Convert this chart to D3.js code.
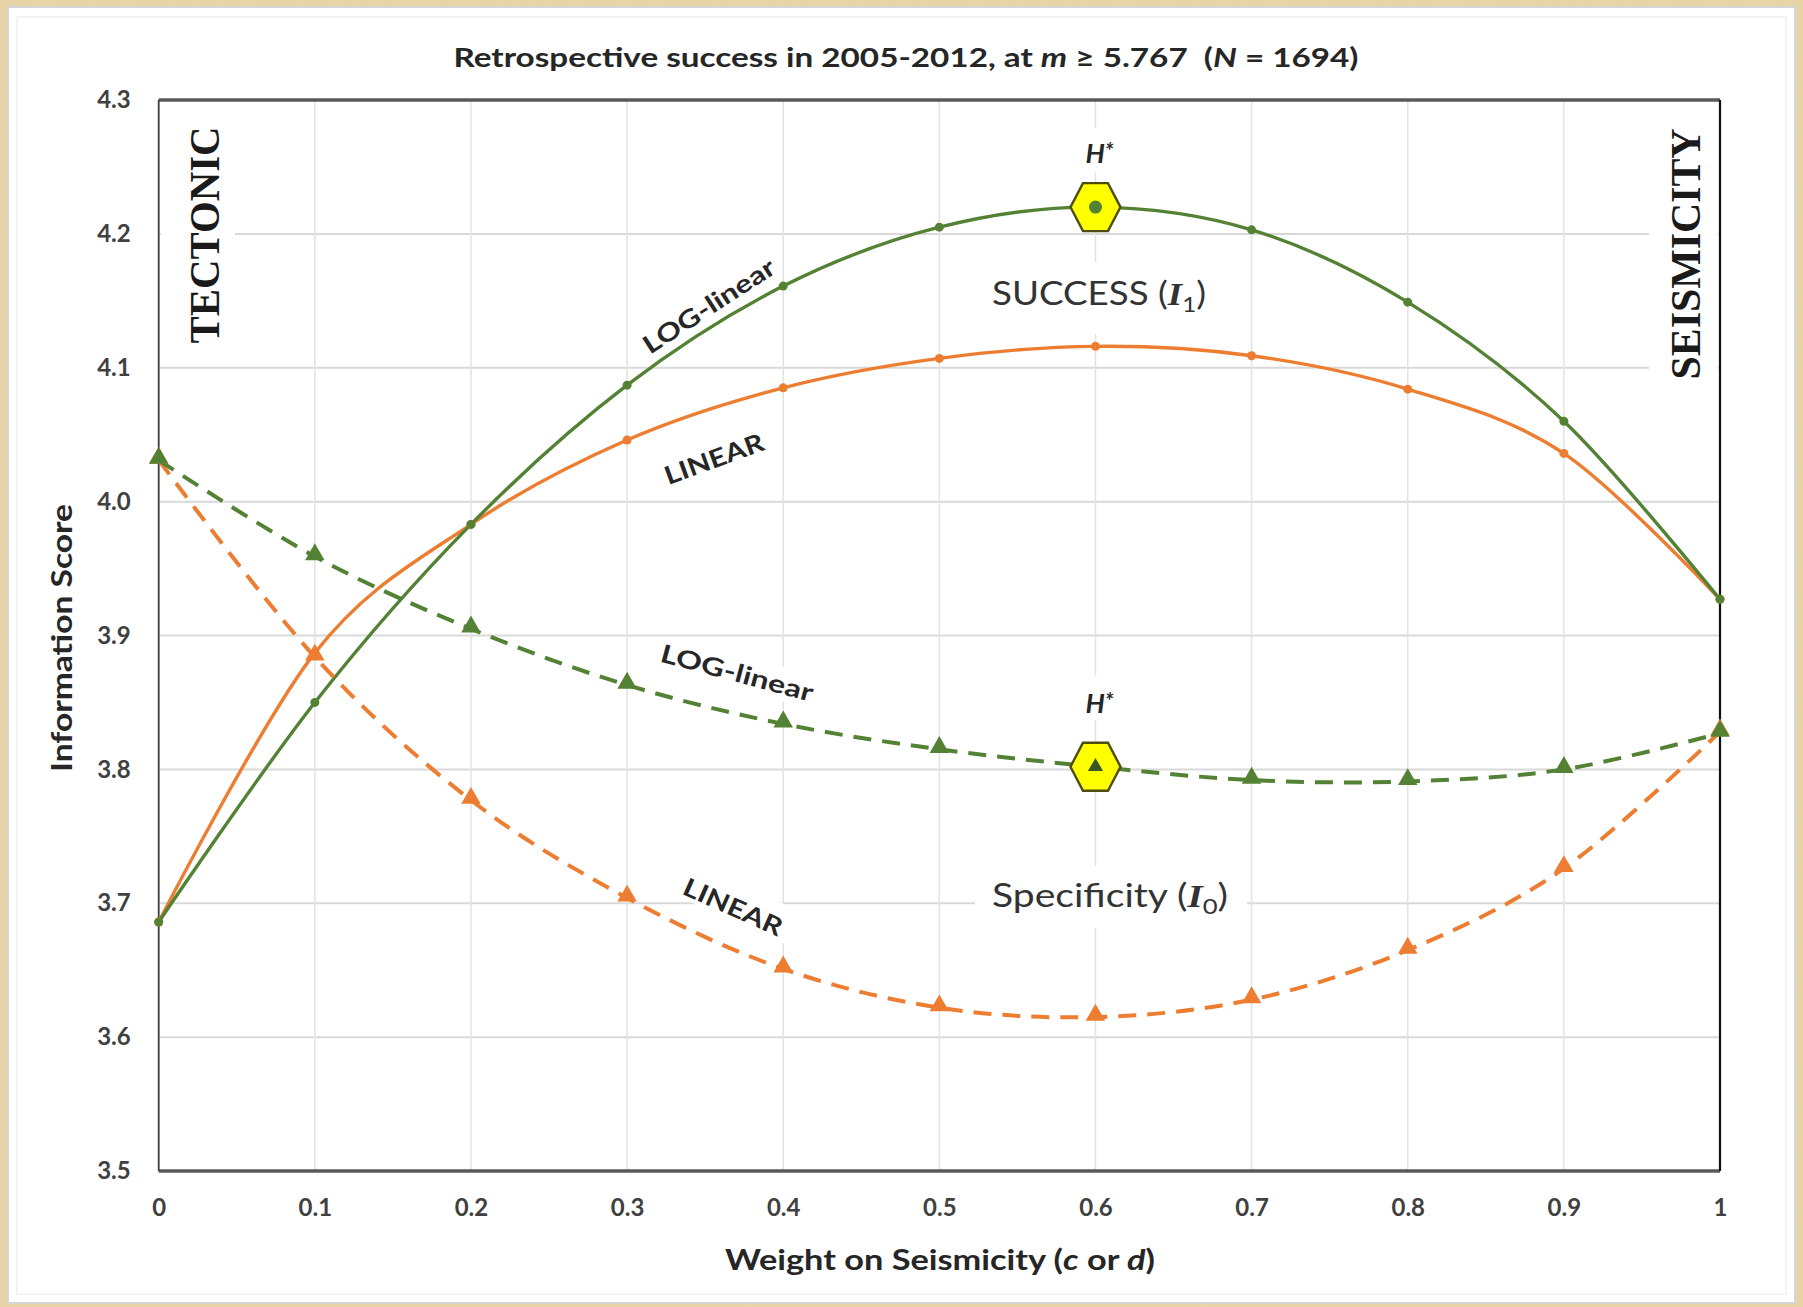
<!DOCTYPE html>
<html><head><meta charset="utf-8">
<script src="https://cdn.jsdelivr.net/npm/d3@7"></script>
<style>html,body{margin:0;padding:0;background:#e9d8ab;} svg{display:block}</style>
</head><body><svg id="c" width="1803" height="1307"></svg>
<script>
// ---- data ----
const weights = [0, 0.1, 0.2, 0.3, 0.4, 0.5, 0.6, 0.7, 0.8, 0.9, 1];
const successLog = [3.686, 3.850, 3.983, 4.087, 4.161, 4.205, 4.220, 4.203, 4.149, 4.060, 3.927];
const successLin = [3.686, 3.887, 3.983, 4.046, 4.085, 4.107, 4.116, 4.109, 4.084, 4.036, 3.927];
const specLog    = [4.031, 3.959, 3.905, 3.863, 3.834, 3.815, 3.802, 3.792, 3.791, 3.800, 3.827];
const specLin    = [4.031, 3.884, 3.777, 3.704, 3.651, 3.622, 3.615, 3.628, 3.665, 3.726, 3.828];
const yTicks = [3.5, 3.6, 3.7, 3.8, 3.9, 4.0, 4.1, 4.2, 4.3];
const xTickLabels = ["0", "0.1", "0.2", "0.3", "0.4", "0.5", "0.6", "0.7", "0.8", "0.9", "1"];
const bestWeight = 0.6;

const GREEN = "#548235", ORANGE = "#ed7d31";
const FONT = "Lato, 'Open Sans', sans-serif";

const svg = d3.select("#c");
const W = 1803, H = 1307;
const L = 158.7, R = 1720, T = 100, B = 1171;
const x = d3.scaleLinear().domain([0, 1]).range([L, R]);
const y = d3.scaleLinear().domain([3.5, 4.3]).range([B, T]);

// background texture
const defs = svg.append("defs");
const f = defs.append("filter").attr("id", "paper").attr("x", 0).attr("y", 0).attr("width", "100%").attr("height", "100%");
f.append("feTurbulence").attr("type", "fractalNoise").attr("baseFrequency", "0.06 0.5").attr("numOctaves", 3).attr("seed", 4).attr("result", "n");
f.append("feColorMatrix").attr("in", "n").attr("type", "matrix")
  .attr("values", "0 0 0 0 0.78  0 0 0 0 0.66  0 0 0 0 0.42  0 0 0 -1.4 1.05");
svg.append("rect").attr("width", W).attr("height", H).attr("fill", "#e8d5a6");
svg.append("rect").attr("width", W).attr("height", H).attr("filter", "url(#paper)").attr("opacity", 0.55);

// white panel
svg.append("rect").attr("x", 8).attr("y", 7).attr("width", 1787).attr("height", 1296)
  .attr("fill", "#ffffff").attr("stroke", "#d6d6d6").attr("stroke-width", 2);
svg.append("rect").attr("x", 17).attr("y", 17).attr("width", 1769).attr("height", 1277)
  .attr("fill", "none").attr("stroke", "#f0f0f0").attr("stroke-width", 1.5);

// gridlines
const grid = svg.append("g");
grid.selectAll("line.h").data(yTicks).join("line")
  .attr("x1", L).attr("x2", R).attr("y1", d => y(d)).attr("y2", d => y(d))
  .attr("stroke", "#d9d9d9").attr("stroke-width", 2);
grid.selectAll("line.v").data(weights).join("line")
  .attr("y1", T).attr("y2", B).attr("x1", d => x(d)).attr("x2", d => x(d))
  .attr("stroke", "#e3e3e3").attr("stroke-width", 1.5);

// white label boxes (hide gridlines like the text boxes in the source)
const boxes = [
  [161, 105, 74, 255],      // TECTONIC
  [1649, 105, 69, 310],     // SEISMICITY
  [980, 262, 236, 72],      // SUCCESS
  [975, 866, 272, 62],      // Specificity
  [1075, 128, 48, 44],      // H* top
  [1080, 676, 48, 44]       // H* bottom
];
svg.append("g").selectAll("rect").data(boxes).join("rect")
  .attr("x", d => d[0]).attr("y", d => d[1]).attr("width", d => d[2]).attr("height", d => d[3]).attr("fill", "#fff");
// rotated boxes behind curve labels
const rotBoxes = [
  [737, 672, 15, 120, 34],
  [742, 905, 24, 130, 36]
];
svg.append("g").selectAll("rect").data(rotBoxes).join("rect")
  .attr("x", d => -d[3] / 2).attr("y", d => -d[4] / 2).attr("width", d => d[3]).attr("height", d => d[4])
  .attr("transform", d => `translate(${d[0]},${d[1]}) rotate(${d[2]})`).attr("fill", "#fff");

// frame
svg.append("line").attr("x1", L).attr("x2", R).attr("y1", T).attr("y2", T).attr("stroke", "#595959").attr("stroke-width", 3.5);
svg.append("line").attr("x1", L).attr("x2", R).attr("y1", B).attr("y2", B).attr("stroke", "#595959").attr("stroke-width", 3.5);
svg.append("line").attr("x1", L).attr("x2", L).attr("y1", T).attr("y2", B).attr("stroke", "#404040").attr("stroke-width", 1.8);
svg.append("line").attr("x1", R).attr("x2", R).attr("y1", T).attr("y2", B).attr("stroke", "#111").attr("stroke-width", 2.2);

// axes (labels only)
const yAxis = d3.axisLeft(y).tickValues(yTicks).tickFormat(d3.format(".1f")).tickSize(0).tickPadding(28);
const gy = svg.append("g").attr("transform", `translate(${L},0)`).call(yAxis);
gy.select(".domain").remove();
gy.selectAll("text").attr("font-family", FONT).attr("font-size", 24).attr("font-weight", 700).attr("fill", "#404040");

const xAxis = d3.axisBottom(x).tickValues(weights).tickFormat((d, i) => xTickLabels[i]).tickSize(0).tickPadding(28);
const gx = svg.append("g").attr("transform", `translate(0,${B})`).call(xAxis);
gx.select(".domain").remove();
gx.selectAll("text").attr("font-family", FONT).attr("font-size", 24).attr("font-weight", 700).attr("fill", "#404040");

// series
const series = [
  {vals: successLin, color: ORANGE, dash: null, mark: "circle", w: 3.4},
  {vals: successLog, color: GREEN, dash: null, mark: "circle", w: 3.4},
  {vals: specLin, color: ORANGE, dash: "18 11", mark: "tri", w: 4},
  {vals: specLog, color: GREEN, dash: "18 11", mark: "tri", w: 4}
];
const line = d3.line().x((d, i) => x(weights[i])).y(d => y(d)).curve(d3.curveCardinal.tension(0));
const gS = svg.append("g");
series.forEach(s => {
  gS.append("path").attr("d", line(s.vals)).attr("fill", "none").attr("stroke", s.color)
    .attr("stroke-width", s.w).attr("stroke-dasharray", s.dash);
});
series.forEach(s => {
  const pts = s.vals.map((v, i) => [x(weights[i]), y(v)]);
  if (s.mark === "circle") {
    gS.append("g").selectAll("circle").data(pts).join("circle")
      .attr("cx", d => d[0]).attr("cy", d => d[1]).attr("r", 4.5).attr("fill", s.color);
  } else {
    const tri = d3.symbol(d3.symbolTriangle, 165)();
    gS.append("g").selectAll("path").data(pts).join("path")
      .attr("d", tri).attr("transform", d => `translate(${d[0]},${d[1] - 2})`).attr("fill", s.color);
  }
});

// H* hexagons
function hexPath(w, h) {
  return `M${-w},0 L${-w / 2},${-h} L${w / 2},${-h} L${w},0 L${w / 2},${h} L${-w / 2},${h} Z`;
}
const bi = weights.indexOf(bestWeight);
const hexes = [
  {cx: x(bestWeight), cy: y(successLog[bi]), inner: "circle", ly: 163},
  {cx: x(bestWeight), cy: y(specLog[bi]), inner: "tri", ly: 713}
];
hexes.forEach(hx => {
  const g = svg.append("g").attr("transform", `translate(${hx.cx},${hx.cy})`);
  g.append("path").attr("d", hexPath(25, 24)).attr("fill", "#ffff00").attr("stroke", "#4d4d10").attr("stroke-width", 2.4);
  if (hx.inner === "circle") g.append("circle").attr("r", 6.5).attr("fill", GREEN);
  else g.append("path").attr("d", d3.symbol(d3.symbolTriangle, 100)()).attr("fill", "#385723");
  svg.append("text").attr("x", hx.cx + 4).attr("y", hx.ly)
    .attr("text-anchor", "middle").attr("font-family", FONT).attr("font-style", "italic").attr("font-weight", 700)
    .attr("font-size", 27).attr("fill", "#262626")
    .call(t => { t.append("tspan").text("H"); t.append("tspan").attr("dy", -4).attr("font-size", 22).text("*"); });
});

// title
const title = svg.append("text").attr("x", 906).attr("y", 67).attr("text-anchor", "middle")
  .attr("font-family", FONT).attr("font-size", 27).attr("font-weight", 700).attr("fill", "#262626")
  .attr("textLength", 905).attr("lengthAdjust", "spacingAndGlyphs");
title.append("tspan").text("Retrospective success in 2005-2012, at ");
title.append("tspan").attr("font-style", "italic").text("m");
title.append("tspan").text(" \u2265 5.767 \u00a0(");
title.append("tspan").attr("font-style", "italic").text("N");
title.append("tspan").text(" = 1694)");

// axis titles
const xt = svg.append("text").attr("x", 940).attr("y", 1270).attr("text-anchor", "middle")
  .attr("font-family", FONT).attr("font-size", 28).attr("font-weight", 700).attr("fill", "#262626")
  .attr("textLength", 430).attr("lengthAdjust", "spacingAndGlyphs");
xt.append("tspan").text("Weight on Seismicity (");
xt.append("tspan").attr("font-style", "italic").text("c");
xt.append("tspan").text(" or ");
xt.append("tspan").attr("font-style", "italic").text("d");
xt.append("tspan").text(")");

svg.append("text").attr("transform", "translate(72,638) rotate(-90)").attr("text-anchor", "middle")
  .attr("font-family", FONT).attr("font-size", 28).attr("font-weight", 700).attr("fill", "#262626")
  .attr("textLength", 268).attr("lengthAdjust", "spacingAndGlyphs").text("Information Score");

// TECTONIC / SEISMICITY
const SERIF = "'Liberation Serif', 'DejaVu Serif', serif";
svg.append("text").attr("transform", "translate(219,235) rotate(-90)").attr("text-anchor", "middle")
  .attr("font-family", SERIF).attr("font-weight", 700).attr("font-size", 42).attr("fill", "#1a1a1a")
  .attr("textLength", 217).attr("lengthAdjust", "spacingAndGlyphs").text("TECTONIC");
svg.append("text").attr("transform", "translate(1700,254) rotate(-90)").attr("text-anchor", "middle")
  .attr("font-family", SERIF).attr("font-weight", 700).attr("font-size", 42).attr("fill", "#1a1a1a")
  .attr("textLength", 251).attr("lengthAdjust", "spacingAndGlyphs").text("SEISMICITY");

// curve labels
const curveLabels = [
  {t: "LOG-linear", cx: 709, cy: 306, a: -33, len: 152},
  {t: "LINEAR", cx: 714, cy: 459, a: -20, len: 104},
  {t: "LOG-linear", cx: 737, cy: 673, a: 15, len: 157},
  {t: "LINEAR", cx: 733, cy: 907, a: 24, len: 106}
];
svg.append("g").selectAll("text").data(curveLabels).join("text")
  .attr("transform", d => `translate(${d.cx},${d.cy}) rotate(${d.a})`)
  .attr("text-anchor", "middle").attr("dy", "0.35em")
  .attr("font-family", FONT).attr("font-weight", 700).attr("font-size", 25).attr("fill", "#262626")
  .attr("textLength", d => d.len).attr("lengthAdjust", "spacingAndGlyphs")
  .text(d => d.t);

// SUCCESS (I1) and Specificity (I0)
function bigLabel(xc, yb, word, sub, len) {
  const t = svg.append("text").attr("x", xc).attr("y", yb).attr("text-anchor", "middle")
    .attr("font-family", FONT).attr("font-size", 32).attr("fill", "#333")
    .attr("textLength", len).attr("lengthAdjust", "spacingAndGlyphs");
  t.append("tspan").text(word + " (");
  t.append("tspan").attr("font-family", SERIF).attr("font-style", "italic").attr("font-weight", 700).text("I");
  t.append("tspan").attr("font-size", 21).attr("dy", 7).text(sub);
  t.append("tspan").attr("dy", -7).text(")");
}
bigLabel(1099, 305, "SUCCESS", "1", 214);
bigLabel(1110, 907, "Specificity", "0", 236);
</script></body></html>
